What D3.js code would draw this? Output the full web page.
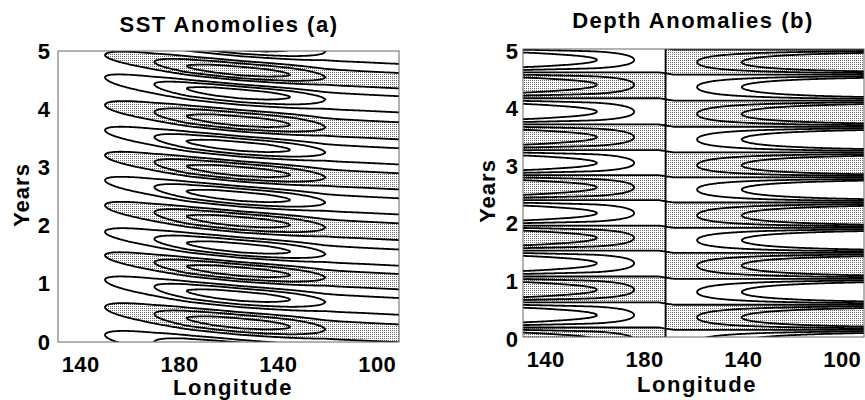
<!DOCTYPE html>
<html>
<head>
<meta charset="utf-8">
<script src="https://cdn.jsdelivr.net/npm/d3@7"></script>
<style>
  body { margin: 0; background: #fff; }
  text { font-family: "Liberation Sans", Arial, sans-serif; font-weight: bold; fill: #000; }
</style>
</head>
<body>
<div id="chart"></div>
<script>
// longitude in degrees east (220 = 140W, 260 = 100W)
var lonDomain = [131, 269];
var lonTicks = [140, 180, 220, 260];
var lonTickLabels = ["140", "180", "140", "100"];
var yearTicks = [0, 1, 2, 3, 4, 5];

// (a) SST: anomaly amplitude along the equator, westward lag, lobe times (at 150E)
var sstAmpLon = [131, 140, 150, 160, 170, 183, 195, 205, 215, 225, 239, 255, 269];
var sstAmp    = [0, 0.45, 1.0, 1.5, 2.0, 3.0, 3.45, 3.55, 3.4, 3.0, 2.0, 1.9, 1.9];
var sstLagLon = [131, 150, 170, 185, 205, 225, 245, 269];
var sstLag    = [0, 0, 0.12, 0.20, 0.28, 0.34, 0.40, 0.45];
var sstLobeYear = [-0.33, 0.12, 0.60, 1.07, 1.49, 1.89, 2.35, 2.78, 3.21, 3.64, 4.07, 4.55, 4.93, 5.37, 5.80];
var sstLobeSign = [1, -1, 1, -1, 1, -1, 1, -1, 1, -1, 1, -1, 1, -1, 1];
var sstLevels = [-3, -2, -1, 1, 2, 3];

// (b) depth: signed amplitude (node near 171W), small lag east of node, lobe times
var depAmpLon = [131, 145, 161, 176, 188.7, 201.4, 219.5, 240, 269];
var depAmp    = [3.3, 2.6, 2.0, 1.0, 0, -1.0, -2.0, -3.2, -5.0];
var depLagLon = [131, 186, 192, 269];
var depLag    = [0, 0, 0.04, 0.04];
var depLobeYear = [-0.48, -0.05, 0.38, 0.82, 1.28, 1.72, 2.15, 2.60, 3.02, 3.47, 3.91, 4.38, 4.81, 5.25];
var depLobeSign = [-1, 1, -1, 1, -1, 1, -1, 1, -1, 1, -1, 1, -1, 1];
var depLevels = [-2, -1, 0, 1, 2];

var svg = d3.select("#chart").append("svg")
    .attr("width", 865)
    .attr("height", 400);

var defs = svg.append("defs");
var pat = defs.append("pattern")
    .attr("id", "stipple")
    .attr("width", 2)
    .attr("height", 2)
    .attr("patternUnits", "userSpaceOnUse");
pat.append("rect").attr("width", 2).attr("height", 2).attr("fill", "#fff");
pat.append("rect").attr("width", 1).attr("height", 1).attr("fill", "#6a6a6a");

function drawPanel(p) {
  var x = d3.scaleLinear().domain(lonDomain).range([p.left, p.right]);
  var y = d3.scaleLinear().domain([0, 5]).range([p.bottom, p.top]);

  var amp = d3.scaleLinear().domain(p.ampLon).range(p.amp).clamp(true);
  var lag = d3.scaleLinear().domain(p.lagLon).range(p.lag).clamp(true);
  var phase = d3.scaleLinear().domain(p.lobeYear).range(d3.range(p.lobeYear.length));
  var sgn = p.lobeSign[0];

  // grid a little larger than the frame so the contour rings close outside the clip
  var nx = 280, ny = 260;
  var lon0 = lonDomain[0] - 2, lon1 = lonDomain[1] + 2, t0 = -0.1, t1 = 5.1;
  var dl = (lon1 - lon0) / nx, dt = (t1 - t0) / ny;
  var values = new Array(nx * ny);
  for (var j = 0; j < ny; j++) {
    for (var i = 0; i < nx; i++) {
      var lon = lon0 + (i + 0.5) * dl, t = t0 + (j + 0.5) * dt;
      values[j * nx + i] = amp(lon) * sgn * Math.cos(Math.PI * phase(t + lag(lon)));
    }
  }

  var path = d3.geoPath(d3.geoTransform({
    point: function(gx, gy) { this.stream.point(x(lon0 + gx * dl), y(t0 + gy * dt)); }
  }));

  var contours = d3.contours().size([nx, ny]);

  defs.append("clipPath").attr("id", "clip-" + p.id)
    .append("rect")
      .attr("x", p.left).attr("y", p.top)
      .attr("width", p.right - p.left).attr("height", p.bottom - p.top);

  var g = svg.append("g").attr("clip-path", "url(#clip-" + p.id + ")");

  g.append("path")
      .datum(contours.thresholds([p.shade])(values)[0])
      .attr("d", path)
      .attr("fill", "url(#stipple)")
      .attr("fill-rule", "evenodd");

  g.selectAll("path.line")
    .data(contours.thresholds(p.levels)(values))
    .enter().append("path")
      .attr("class", "line")
      .attr("d", path)
      .attr("fill", "none")
      .attr("stroke", "#000")
      .attr("stroke-width", 1.8)
      .attr("stroke-linejoin", "round");

  svg.append("rect")
      .attr("x", p.left).attr("y", p.top)
      .attr("width", p.right - p.left).attr("height", p.bottom - p.top)
      .attr("fill", "none")
      .attr("stroke", "#666")
      .attr("stroke-width", 1);

  var xAxis = svg.append("g")
      .attr("transform", "translate(0," + p.bottom + ")")
      .call(d3.axisBottom(x).tickValues(lonTicks)
        .tickFormat(function(d, i) { return lonTickLabels[i]; })
        .tickSize(0).tickPadding(14));
  xAxis.select(".domain").remove();
  xAxis.selectAll("text")
      .attr("font-size", 22)
      .attr("font-family", null)
      .style("letter-spacing", "0.5px");

  var yAxis = svg.append("g")
      .attr("transform", "translate(" + p.left + "," + p.yLabelShift + ")")
      .call(d3.axisLeft(y).tickValues(yearTicks).tickFormat(d3.format("d"))
        .tickSize(0).tickPadding(p.yPad));
  yAxis.select(".domain").remove();
  yAxis.selectAll("text")
      .attr("font-size", 22)
      .attr("font-family", null);

  svg.append("text")
      .attr("x", p.titleX).attr("y", p.titleY)
      .attr("text-anchor", "middle")
      .attr("font-size", 22)
      .style("letter-spacing", "1.5px")
      .text(p.title);

  svg.append("text")
      .attr("x", p.xLabelX).attr("y", p.xLabelY)
      .attr("text-anchor", "middle")
      .attr("font-size", 22)
      .style("letter-spacing", "1.5px")
      .text("Longitude");

  svg.append("text")
      .attr("transform", "translate(" + p.yLabelX + "," + p.yLabelY + ") rotate(-90)")
      .attr("text-anchor", "middle")
      .attr("font-size", 22)
      .style("letter-spacing", "1px")
      .text("Years");
}

drawPanel({
  id: "a", left: 58, right: 399, top: 51, bottom: 342,
  ampLon: sstAmpLon, amp: sstAmp, lagLon: sstLagLon, lag: sstLag,
  lobeYear: sstLobeYear, lobeSign: sstLobeSign, levels: sstLevels, shade: 1,
  yPad: 8, yLabelShift: 0,
  title: "SST Anomolies (a)", titleX: 229, titleY: 32,
  xLabelX: 233, xLabelY: 395,
  yLabelX: 29, yLabelY: 195
});

drawPanel({
  id: "b", left: 523, right: 864, top: 49, bottom: 337,
  ampLon: depAmpLon, amp: depAmp, lagLon: depLagLon, lag: depLag,
  lobeYear: depLobeYear, lobeSign: depLobeSign, levels: depLevels, shade: 0,
  yPad: 5, yLabelShift: 2,
  title: "Depth Anomalies (b)", titleX: 693, titleY: 28,
  xLabelX: 697, xLabelY: 392,
  yLabelX: 495, yLabelY: 191
});
</script>
</body>
</html>
